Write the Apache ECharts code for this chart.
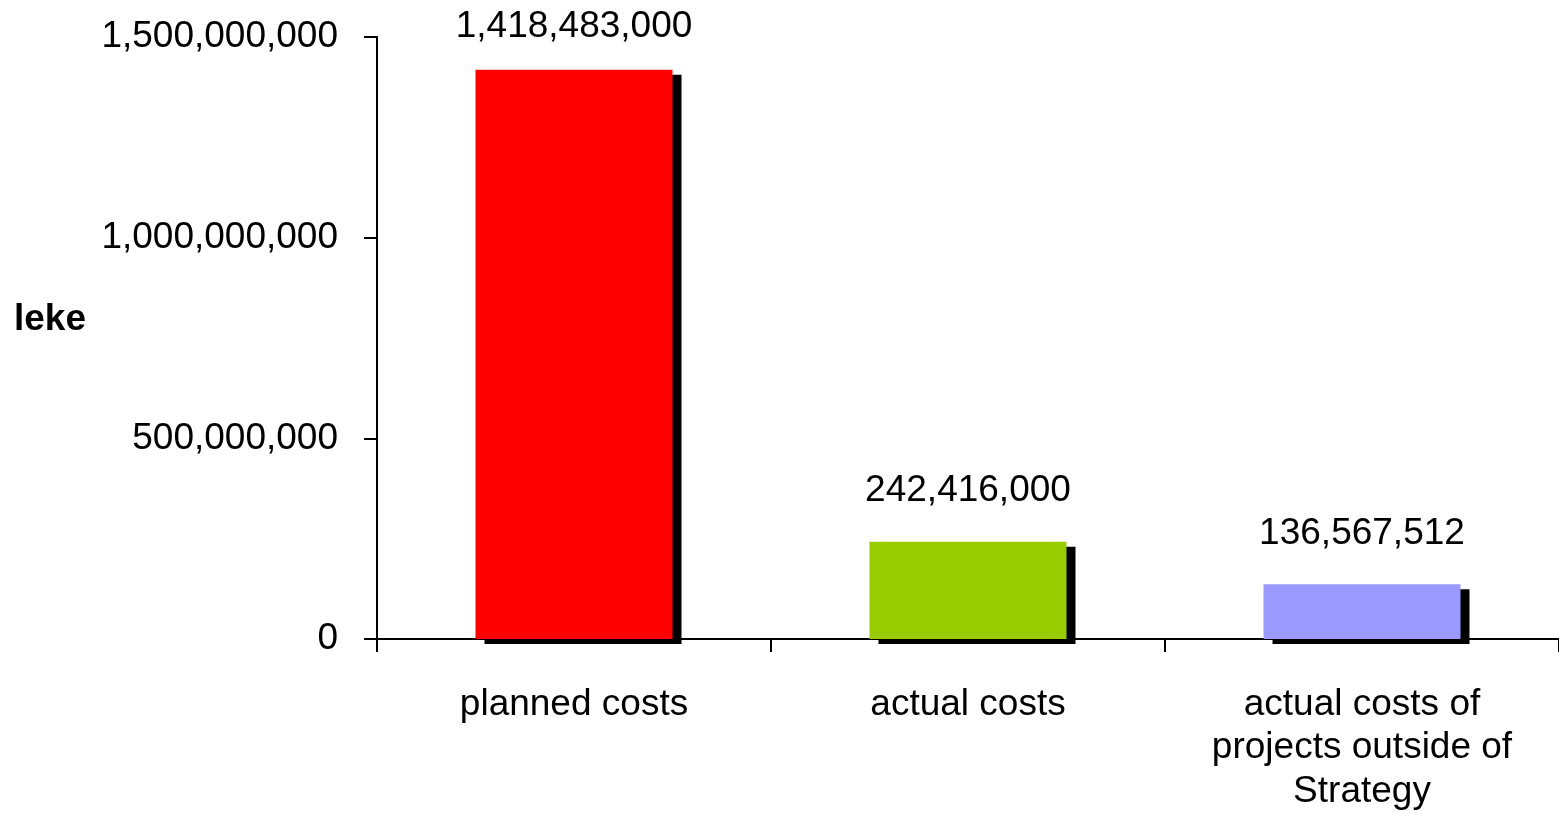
<!DOCTYPE html>
<html>
<head>
<meta charset="utf-8">
<title>Costs</title>
<script src="https://cdn.jsdelivr.net/npm/echarts@6/dist/echarts.min.js"></script>
<style>
  html, body { margin: 0; padding: 0; background: #ffffff; }
  #chart { width: 1559px; height: 814px; }
</style>
</head>
<body>
<div id="chart"></div>
<script>
// Cost categories and amounts (leke)
const categories = ['planned costs', 'actual costs', 'actual costs of\nprojects outside of\nStrategy'];
const costValues = [1418483000, 242416000, 136567512];
const barColors = ['#FF0000', '#99CC00', '#9999FF'];
const yTicks = { min: 0, max: 1500000000, interval: 500000000 };
const axisTitle = 'leke';

const FONT = '"Liberation Sans", Arial, sans-serif';
const FS = 37;
const fmt = v => Number(v).toLocaleString('en-US');

const chart = echarts.init(document.getElementById('chart'), null, { renderer: 'canvas' });

chart.setOption({
  backgroundColor: '#ffffff',
  animation: false,
  textStyle: { fontFamily: FONT },
  grid: { left: 377, right: 0, top: 37, bottom: 175, containLabel: false },
  xAxis: {
    type: 'category',
    data: categories,
    boundaryGap: true,
    axisLine: { show: true, lineStyle: { color: '#000', width: 2 } },
    axisTick: { show: true, length: 13, interval: 0, lineStyle: { color: '#000', width: 2 } },
    axisLabel: {
      interval: 0, margin: 44, color: '#000',
      fontSize: FS, fontFamily: FONT, lineHeight: 43.5, align: 'center'
    },
    splitLine: { show: false }
  },
  yAxis: {
    type: 'value',
    min: yTicks.min, max: yTicks.max, interval: yTicks.interval,
    axisLine: { show: true, lineStyle: { color: '#000', width: 2 } },
    axisTick: { show: true, length: 13, lineStyle: { color: '#000', width: 2 } },
    axisLabel: { margin: 39, color: '#000', fontSize: FS, fontFamily: FONT, formatter: fmt },
    splitLine: { show: false }
  },
  graphic: [{
    type: 'text',
    left: 14, top: 301,
    style: { text: axisTitle, fill: '#000', font: 'bold ' + FS + 'px ' + FONT }
  }],
  series: [{
    type: 'bar',
    barWidth: 197,
    data: costValues.map((v, i) => ({
      value: v,
      itemStyle: { color: barColors[i] },
      label: i === 0 ? { distance: 24 } : undefined
    })),
    itemStyle: {
      shadowColor: '#000000',
      shadowBlur: 0,
      shadowOffsetX: 9,
      shadowOffsetY: 5
    },
    label: {
      show: true, position: 'top', distance: 32,
      color: '#000', fontSize: FS, fontFamily: FONT,
      formatter: p => fmt(p.value)
    }
  }]
});
</script>
</body>
</html>
